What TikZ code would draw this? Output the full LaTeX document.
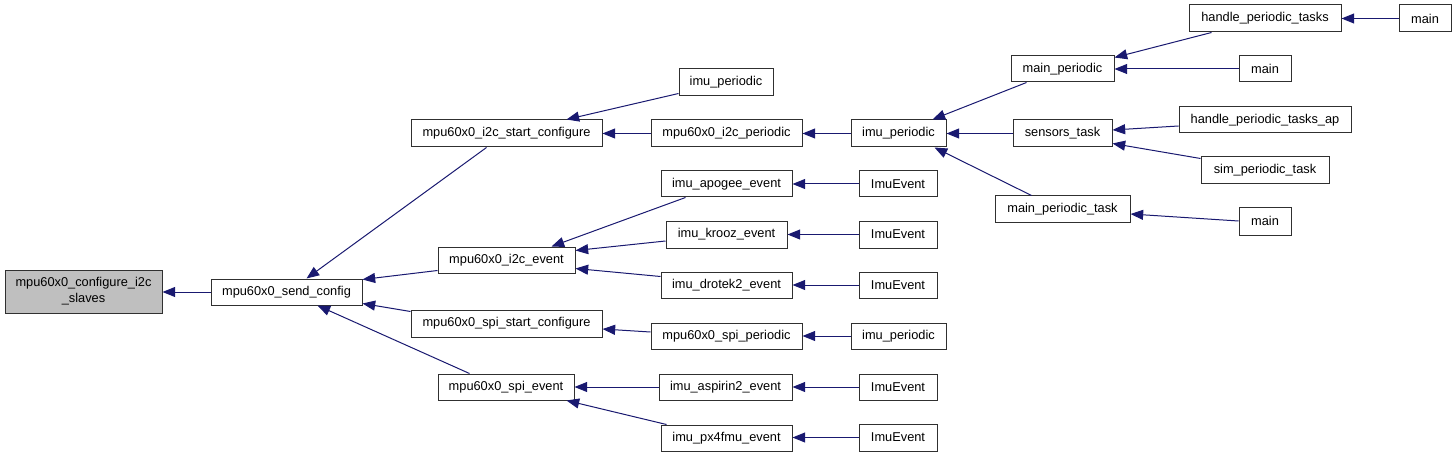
\documentclass[tikz,border=0pt]{standalone}
\usepackage{fontspec}
\setmainfont{Liberation Sans}
\usetikzlibrary{arrows.meta,calc}
\definecolor{edgeblue}{HTML}{191970}
\definecolor{rootgray}{HTML}{BFBFBF}
\definecolor{boxline}{HTML}{303030}
\newcommand{\mkfn}[7][]{\node[fn,#1,minimum width={(#4-#2)*0.75pt},minimum height={(#5-#3)*0.75pt}] (#6) at ({(#2+#4)/2},{(#3+#5)/2}) {#7};}
\tikzset{
  fn/.style={draw=boxline,line width=0.75pt,fill=white,inner sep=0pt,align=center,font=\fontsize{9.6pt}{12pt}\selectfont},
  rootfn/.style={fill=rootgray},
  e/.style={draw=edgeblue,line width=0.75pt,-{Triangle[length=9.5pt,width=7.5pt]}}
}
\begin{document}
\begin{tikzpicture}[x=0.75pt,y=-0.75pt]
\useasboundingbox (0,0) rectangle (1456,456);
% column 0/1
\mkfn[rootfn]{5}{270}{162}{313}{conf}{mpu60x0\_configure\_i2c\\\_slaves}
\mkfn{211}{279}{362}{305}{send}{mpu60x0\_send\_config}
% column 2
\mkfn{411}{120}{602}{147}{i2cstart}{mpu60x0\_i2c\_start\_configure}
\mkfn{438}{247}{575}{273}{i2cevent}{mpu60x0\_i2c\_event}
\mkfn{411}{310}{602}{337}{spistart}{mpu60x0\_spi\_start\_configure}
\mkfn{438}{374}{574}{400}{spievent}{mpu60x0\_spi\_event}
% column 3
\mkfn{679}{69}{773}{96}{imuperA}{imu\_periodic}
\mkfn{651}{120}{802}{147}{i2cper}{mpu60x0\_i2c\_periodic}
\mkfn{661}{171}{792}{197}{apogee}{imu\_apogee\_event}
\mkfn{666}{221}{787}{248}{krooz}{imu\_krooz\_event}
\mkfn{661}{272}{792}{298}{drotek}{imu\_drotek2\_event}
\mkfn{651}{323}{802}{349}{spiper}{mpu60x0\_spi\_periodic}
\mkfn{659}{374}{792}{400}{aspirin}{imu\_aspirin2\_event}
\mkfn{661}{425}{792}{451}{pxfmu}{imu\_px4fmu\_event}
% column 4
\mkfn{851}{120}{946}{147}{imuperB}{imu\_periodic}
\mkfn{859}{171}{937}{197}{evA}{ImuEvent}
\mkfn{859}{221}{937}{248}{evB}{ImuEvent}
\mkfn{859}{272}{937}{298}{evC}{ImuEvent}
\mkfn{851}{323}{946}{349}{imuperC}{imu\_periodic}
\mkfn{859}{374}{937}{400}{evD}{ImuEvent}
\mkfn{859}{424}{937}{451}{evE}{ImuEvent}
% column 5
\mkfn{1011}{56}{1114}{82}{mainper}{main\_periodic}
\mkfn{1013}{120}{1112}{147}{sensors}{sensors\_task}
\mkfn{995}{196}{1130}{222}{mpt}{main\_periodic\_task}
% column 6
\mkfn{1189}{5}{1341}{32}{hpt}{handle\_periodic\_tasks}
\mkfn{1239}{56}{1291}{82}{mainB}{main}
\mkfn{1179}{107}{1351}{133}{hptap}{handle\_periodic\_tasks\_ap}
\mkfn{1201}{157}{1329}{184}{sim}{sim\_periodic\_task}
\mkfn{1239}{207}{1291}{235}{mainC}{main}
% column 7
\mkfn{1399}{5}{1451}{32}{mainA}{main}
% edges
\draw[e] (send.west) -- (conf.east |- send.west);
\draw[e] ($(i2cstart.south west)+(76,0)$) -- ($(send.north west)+(96,0)$);
\draw[e] ($(i2cevent.south west)+(0,-3)$) -- ($(send.north east)+(0,1)$);
\draw[e] ($(spistart.north west)+(0,2)$) -- ($(send.south east)+(0,-2)$);
\draw[e] ($(spievent.north west)+(32,0)$) -- ($(send.south west)+(107,0)$);
\draw[e] ($(imuperA.south west)+(0,-3)$) -- ($(i2cstart.north west)+(156,0)$);
\draw[e] (i2cper.west) -- (i2cstart.east);
\draw[e] ($(apogee.south west)+(25,0)$) -- ($(i2cevent.north west)+(114,0)$);
\draw[e] ($(krooz.west)+(0,6.5)$) -- ($(i2cevent.north east)+(0,4)$);
\draw[e] ($(drotek.north west)+(0,5)$) -- ($(i2cevent.south east)+(0,-5)$);
\draw[e] ($(spiper.west)+(0,-4)$) -- ($(spistart.east)+(0,5.5)$);
\draw[e] (aspirin.west) -- (spievent.east);
\draw[e] ($(pxfmu.north west)+(6,0)$) -- ($(spievent.south west)+(129,0)$);
\draw[e] (imuperB.west) -- (i2cper.east);
\draw[e] (evA.west) -- (apogee.east);
\draw[e] (evB.west) -- (krooz.east);
\draw[e] (evC.west) -- (drotek.east);
\draw[e] (imuperC.west) -- (spiper.east);
\draw[e] (evD.west) -- (aspirin.east);
\draw[e] (evE.west) -- (pxfmu.east |- evE.west);
\draw[e] ($(mainper.south west)+(16,0)$) -- ($(imuperB.north west)+(82,0)$);
\draw[e] (sensors.west) -- (imuperB.east);
\draw[e] ($(mpt.north west)+(37,0)$) -- ($(imuperB.south west)+(84,0)$);
\draw[e] ($(hpt.south west)+(23,0)$) -- ($(mainper.north east)+(0,2)$);
\draw[e] (mainB.west) -- (mainper.east);
\draw[e] (mainA.west) -- (hpt.east);
\draw[e] ($(hptap.west)+(0,6)$) -- ($(sensors.east)+(0,-3.5)$);
\draw[e] ($(sim.north west)+(0,2)$) -- ($(sensors.south east)+(0,-4)$);
\draw[e] (mainC.west) -- ($(mpt.east)+(0,5)$);
\end{tikzpicture}
\end{document}
